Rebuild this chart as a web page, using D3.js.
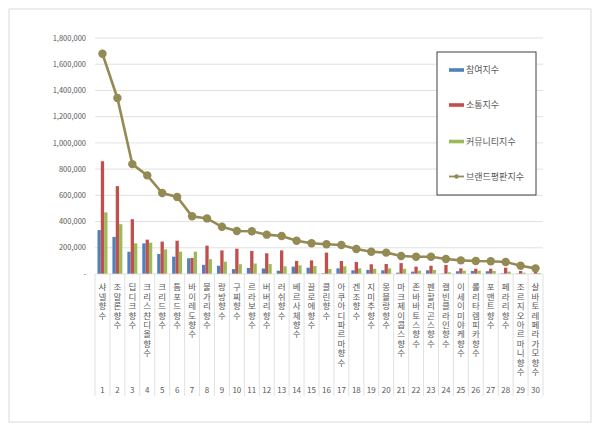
<!DOCTYPE html>
<html><head><meta charset="utf-8">
<script src="https://cdn.jsdelivr.net/npm/d3@7"></script>
<style>body{margin:0;background:#fff}svg{display:block}text{font-family:"Noto Sans CJK KR","Noto Sans",sans-serif;fill:#595959}
.vlab{writing-mode:vertical-rl;text-orientation:upright;}</style>
</head><body><svg id="c" width="600" height="432"></svg>
<script>
const ranks = d3.range(1,31).map(String);
const names = ["샤넬 향수","조말론 향수","딥디크 향수","크리스챤디올향수","크리드 향수","톰포드 향수","바이레도 향수","불가리 향수","랑방 향수","구찌 향수","르라보 향수","버버리 향수","러쉬 향수","베르사체 향수","끌로에 향수","클린 향수","아쿠아디파르마 향수","겐조 향수","지미추 향수","몽블랑 향수","마크제이콥스 향수","존바바토스 향수","펜할리곤스 향수","캘빈클라인 향수","이세이미야케 향수","롤리타렘피카 향수","포맨트 향수","페라리 향수","조르지오아르마니 향수","살바토레페라가모 향수"];
const participation = [335000,283000,170000,234000,153000,132000,120000,70000,63000,37000,46000,42000,25000,56000,48000,5000,43000,28000,31000,28000,10000,18000,28000,3000,21000,23000,21000,5000,2000,1000];
const communication = [860000,670000,418000,262000,247000,254000,122000,216000,180000,193000,176000,158000,180000,100000,104000,163000,99000,92000,74000,76000,83000,56000,63000,69000,43000,40000,40000,48000,23000,18000];
const community = [470000,380000,234000,239000,188000,170000,170000,113000,94000,75000,80000,76000,59000,66000,61000,38000,59000,43000,40000,43000,40000,25000,31000,13000,25000,25000,23000,18000,10000,8000];
const brandIndex = [1680000,1342000,838000,752000,618000,588000,440000,424000,360000,328000,326000,300000,290000,254000,234000,227000,221000,191000,170000,163000,137000,132000,132000,114000,104000,99000,97000,92000,63000,43000];
const yTicks = [0,200000,400000,600000,800000,1000000,1200000,1400000,1600000,1800000];
const seriesNames = ["참여지수","소통지수","커뮤니티지수","브랜드평판지수"];
const barColors = ["#4F81BD","#C0504D","#9BBB59"];
const lineColor = "#948A54";

const svg = d3.select("#c");
svg.append("rect").attr("x",9).attr("y",9).attr("width",582).attr("height",413)
  .attr("fill","#fff").attr("stroke","#d9d9d9").attr("stroke-width",1);

const x = d3.scaleBand().domain(ranks).range([95,543]).padding(0);
const y = d3.scaleLinear().domain([0,1800000]).range([274,38]);
const bw = x.bandwidth();
const xs = d3.scaleBand().domain([0,1,2]).range([bw*0.167, bw*0.833]).padding(0);

// gridlines
svg.append("g").selectAll("line").data(yTicks.slice(1)).join("line")
  .attr("x1",95).attr("x2",543).attr("y1",d=>y(d)).attr("y2",d=>y(d))
  .attr("stroke","#d9d9d9").attr("stroke-width",0.8);

// y axis labels
const fmt = d3.format(",");
svg.append("g").selectAll("text").data(yTicks).join("text")
  .attr("x",86).attr("y",d=>y(d)).attr("dy","0.35em").attr("text-anchor","end")
  .attr("font-size",7.5).text(d=>d===0?"-":fmt(d));

// bars
const barData = [participation,communication,community];
barData.forEach((arr,si)=>{
  svg.append("g").selectAll("rect").data(arr).join("rect")
    .attr("x",(d,i)=>x(ranks[i])+xs(si)).attr("width",xs.bandwidth())
    .attr("y",d=>y(d)).attr("height",d=>y(0)-y(d)).attr("fill",barColors[si]);
});

// x axis line and separators
svg.append("line").attr("x1",95).attr("x2",543).attr("y1",y(0)).attr("y2",y(0)).attr("stroke","#d9d9d9").attr("stroke-width",0.8);
const bounds = ranks.map(r=>x(r)).concat([x(ranks[29])+bw]);
svg.append("g").selectAll("line").data(bounds).join("line")
  .attr("x1",d=>d).attr("x2",d=>d).attr("y1",y(0)).attr("y2",396)
  .attr("stroke","#d9d9d9").attr("stroke-width",0.8);

// category labels (stacked vertically)
svg.append("g").selectAll("text").data(names).join("text")
  .attr("class","vlab")
  .attr("x",(d,i)=>x(ranks[i])+bw/2).attr("y",283)
  .attr("font-size",8.5).attr("letter-spacing",0.9)
  .text(d=>d.replace(/ /g,""));
svg.append("g").selectAll("text").data(ranks).join("text")
  .attr("x",d=>x(d)+bw/2).attr("y",393).attr("text-anchor","middle")
  .attr("font-size",8).text(d=>d);

// line
const line = d3.line().x((d,i)=>x(ranks[i])+bw/2).y(d=>y(d));
svg.append("path").datum(brandIndex).attr("d",line).attr("fill","none")
  .attr("stroke",lineColor).attr("stroke-width",2.6);
svg.append("g").selectAll("circle").data(brandIndex).join("circle")
  .attr("cx",(d,i)=>x(ranks[i])+bw/2).attr("cy",d=>y(d)).attr("r",4.2).attr("fill",lineColor);

// legend
const lg = svg.append("g");
lg.append("rect").attr("x",437).attr("y",52).attr("width",99).attr("height",143)
  .attr("fill","#fff").attr("stroke","#404040").attr("stroke-width",1);
const ly = [70,105,141.5,176.5];
seriesNames.forEach((s,i)=>{
  if(i<3){
    lg.append("rect").attr("x",449).attr("y",ly[i]-1.8).attr("width",15).attr("height",3.6).attr("fill",barColors[i]);
  } else {
    lg.append("line").attr("x1",449).attr("x2",464).attr("y1",ly[i]).attr("y2",ly[i]).attr("stroke",lineColor).attr("stroke-width",1.8);
    lg.append("circle").attr("cx",456.5).attr("cy",ly[i]).attr("r",2.2).attr("fill",lineColor);
  }
  lg.append("text").attr("x",466).attr("y",ly[i]).attr("dy","0.35em").attr("font-size",9).text(s);
});
</script></body></html>
